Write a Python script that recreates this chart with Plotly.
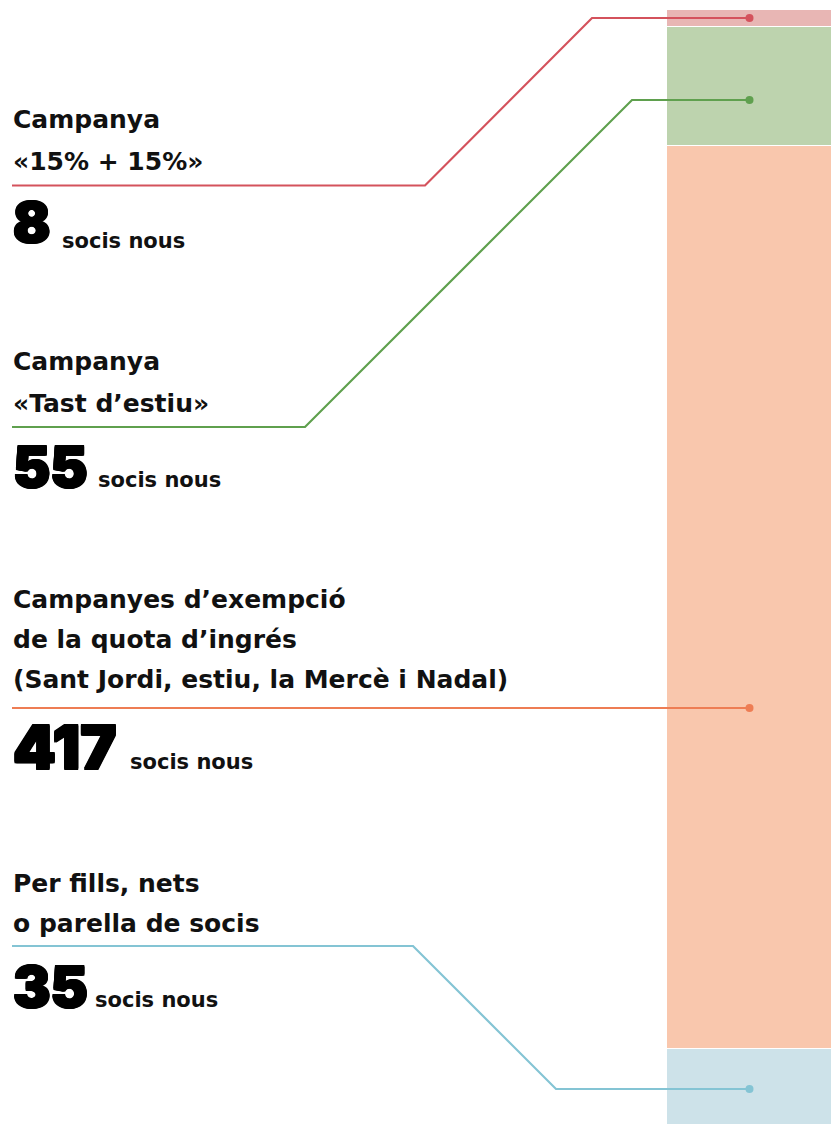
import plotly.graph_objects as go

# ---- data (top-to-bottom order as drawn) ----
categories = ["Campanya «15% + 15%»", "Campanya «Tast d’estiu»",
              "Campanyes d’exempció de la quota d’ingrés (Sant Jordi, estiu, la Mercè i Nadal)",
              "Per fills, nets o parella de socis"]
values = [8, 55, 417, 35]
label_lines = [["Campanya", "«15% + 15%»"],
               ["Campanya", "«Tast d’estiu»"],
               ["Campanyes d’exempció", "de la quota d’ingrés", "(Sant Jordi, estiu, la Mercè i Nadal)"],
               ["Per fills, nets", "o parella de socis"]]
unit_label = "socis nous"

# ---- styles ----
seg_colors = ["#e8b6b4", "#bdd3ae", "#f9c7ad", "#cde2e9"]
line_colors = ["#d4525c", "#5fa04e", "#ee7d54", "#84c4d4"]

W, H = 832, 1125
BAR_LEFT, BAR_RIGHT, BAR_TOP = 667, 832, 10
total = sum(values)
y_top = total * H / (H - BAR_TOP)

# layout geometry (pixels)
line_baselines = [[128, 170], [370, 412], [608, 648, 688], [892, 932]]
underline_y = [185.5, 427, 708, 946]
num_baseline = [242, 487, 769, 1007]
num_size = [55, 56, 61, 56]
unit_x = [60, 96, 128, 93]
unit_baseline = [249, 488, 770, 1008]
leader_bend = [(425, 592), (305, 632), (None, None), (413, 556)]
dot_y = [18, 100, 708, 1089]
dot_x = (BAR_LEFT + BAR_RIGHT) / 2

heavy = ("1px 0 0 #000, -1px 0 0 #000, 0 1px 0 #000, 0 -1px 0 #000, "
         "1px 1px 0 #000, -1px -1px 0 #000, 1px -1px 0 #000, -1px 1px 0 #000")

fig = go.Figure()

# stacked bar: bottom segment first
for i in reversed(range(len(values))):
    fig.add_trace(go.Bar(
        x=[dot_x], y=[values[i]], width=[BAR_RIGHT - BAR_LEFT], name=categories[i],
        marker=dict(color=seg_colors[i], line=dict(color="white", width=1.2)),
        hoverinfo="skip", showlegend=False))

# leader lines
for i in range(len(values)):
    b1, b2 = leader_bend[i]
    if b1 is None:
        xs = [12, dot_x]
        ys = [underline_y[i], dot_y[i]]
    else:
        xs = [12, b1, b2, dot_x]
        ys = [underline_y[i], underline_y[i], dot_y[i], dot_y[i]]
    fig.add_trace(go.Scatter(x=xs, y=ys, yaxis="y2", mode="lines",
                             line=dict(color=line_colors[i], width=2.2),
                             hoverinfo="skip", showlegend=False))
    fig.add_trace(go.Scatter(x=[dot_x], y=[dot_y[i]], yaxis="y2", mode="markers",
                             marker=dict(color=line_colors[i], size=8),
                             hoverinfo="skip", showlegend=False))

annotations = []
LBL = 25
for i in range(len(values)):
    for t, bl in zip(label_lines[i], line_baselines[i]):
        annotations.append(dict(x=11, y=bl - 0.36 * LBL, xref="x", yref="y2", text=t,
                                showarrow=False, xanchor="left", yanchor="middle",
                                font=dict(family="DejaVu Sans", size=LBL, color="#111111", weight="bold")))
    s = num_size[i]
    annotations.append(dict(x=11, y=num_baseline[i] - 0.36 * s, xref="x", yref="y2",
                            text=str(values[i]), showarrow=False, xanchor="left", yanchor="middle",
                            font=dict(family="Inter", size=s, color="#000000", weight=900,
                                      shadow=heavy)))
    annotations.append(dict(x=unit_x[i], y=unit_baseline[i] - 0.36 * 22, xref="x", yref="y2",
                            text=unit_label, showarrow=False, xanchor="left", yanchor="middle",
                            font=dict(family="DejaVu Sans", size=21, color="#111111", weight="bold")))

fig.update_layout(
    width=W, height=H, margin=dict(l=0, r=0, t=0, b=0),
    paper_bgcolor="white", plot_bgcolor="white", barmode="stack", bargap=0,
    xaxis=dict(range=[0, W], visible=False, fixedrange=True),
    yaxis=dict(range=[0, y_top], visible=False, fixedrange=True),
    yaxis2=dict(range=[H, 0], overlaying="y", visible=False, fixedrange=True),
    annotations=annotations,
)

fig.write_html("out.html", config={"displayModeBar": False},
               post_script="document.body.style.margin='0';document.body.style.overflow='hidden';")
